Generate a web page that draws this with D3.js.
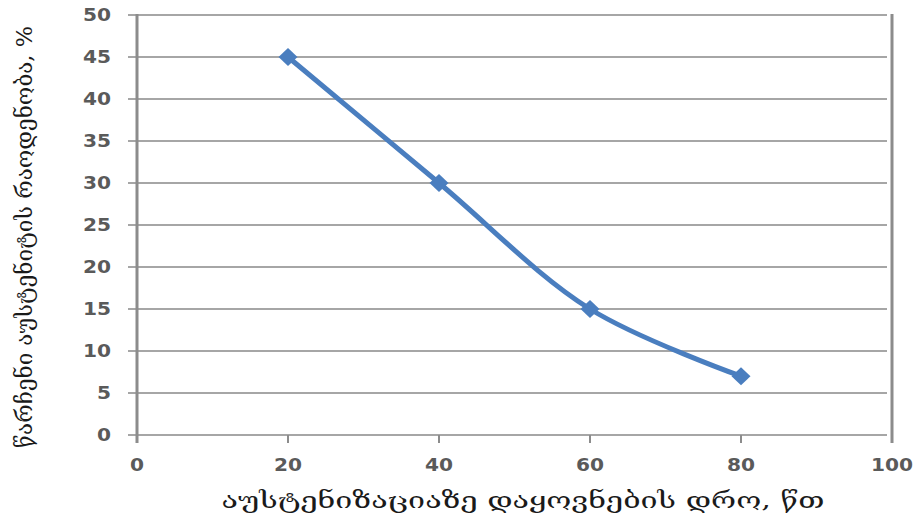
<!DOCTYPE html>
<html><head><meta charset="utf-8">
<script src="https://cdn.jsdelivr.net/npm/d3@7"></script>
<style>body{margin:0;background:#fff}svg{display:block}</style>
</head><body>
<svg id="c" width="922" height="524"></svg>
<script>
const xValues = [20, 40, 60, 80];
const yValues = [45, 30, 15, 7];
const xTicks = [0, 20, 40, 60, 80, 100];
const yTicks = [0, 5, 10, 15, 20, 25, 30, 35, 40, 45, 50];
const xTitle = "აუსტენიზაციაზე დაყოვნების დრო, წთ";
const yTitle = "წარჩენი აუსტენიტის რაოდენობა, %";

const svg = d3.select("#c");
const x = d3.scaleLinear().domain([0, 100]).range([137, 892]);
const y = d3.scaleLinear().domain([0, 50]).range([435, 15]);
const tickFont = "'DejaVu Sans', Verdana, sans-serif";

// gridlines
svg.append("g").selectAll("line").data(yTicks).join("line")
  .attr("x1", 128).attr("x2", 887)
  .attr("y1", d => y(d)).attr("y2", d => y(d))
  .attr("stroke", "#a6a6a6").attr("stroke-width", 2);

// y axis line
svg.append("line").attr("x1", x(0)).attr("x2", x(0)).attr("y1", y(50) - 1).attr("y2", 443)
  .attr("stroke", "#8c8c8c").attr("stroke-width", 3);
// right border
svg.append("line").attr("x1", x(100)).attr("x2", x(100)).attr("y1", y(50) - 1).attr("y2", 443)
  .attr("stroke", "#8c8c8c").attr("stroke-width", 3);
// x axis ticks
svg.append("g").selectAll("line").data(xTicks.slice(1, -1)).join("line")
  .attr("x1", d => x(d)).attr("x2", d => x(d)).attr("y1", y(0)).attr("y2", 443)
  .attr("stroke", "#8c8c8c").attr("stroke-width", 2);

// y tick labels
svg.append("g").selectAll("text").data(yTicks).join("text")
  .attr("transform", d => `translate(111,${y(d)}) scale(1.12,1)`)
  .attr("dy", "0.36em")
  .attr("text-anchor", "end")
  .attr("font-family", tickFont).attr("font-size", 18).attr("font-weight", "bold")
  .attr("fill", "#5a5a5a").text(d => d);

// x tick labels
svg.append("g").selectAll("text").data(xTicks).join("text")
  .attr("transform", d => `translate(${x(d)},465) scale(1.12,1)`)
  .attr("dy", "0.36em")
  .attr("text-anchor", "middle")
  .attr("font-family", tickFont).attr("font-size", 18).attr("font-weight", "bold")
  .attr("fill", "#5a5a5a").text(d => d);

// line
const pts = xValues.map((v, i) => [v, yValues[i]]);
const line = d3.line().x(d => x(d[0])).y(d => y(d[1])).curve(d3.curveCatmullRom.alpha(0.5));
svg.append("path").datum(pts).attr("d", line)
  .attr("fill", "none").attr("stroke", "#4a7ebf").attr("stroke-width", 5)
  .attr("stroke-linejoin", "round");

// markers
svg.append("g").selectAll("path").data(pts).join("path")
  .attr("transform", d => `translate(${x(d[0])},${y(d[1])})`)
  .attr("d", "M0,-9L9.5,0L0,9L-9.5,0Z")
  .attr("fill", "#4a7ebf");

// axis titles
svg.append("text").attr("x", 523).attr("y", 508)
  .attr("text-anchor", "middle")
  .attr("font-family", "'DejaVu Serif', 'DejaVu Sans', serif").attr("font-size", 22)
  .attr("textLength", 603).attr("lengthAdjust", "spacingAndGlyphs")
  .attr("fill", "#1a1a1a").text(xTitle);

svg.append("text")
  .attr("transform", "translate(32,237) rotate(-90)")
  .attr("text-anchor", "middle")
  .attr("font-family", "'DejaVu Serif', 'DejaVu Sans', serif").attr("font-size", 22)
  .attr("textLength", 422).attr("lengthAdjust", "spacingAndGlyphs")
  .attr("fill", "#1a1a1a").text(yTitle);
</script>
</body></html>
